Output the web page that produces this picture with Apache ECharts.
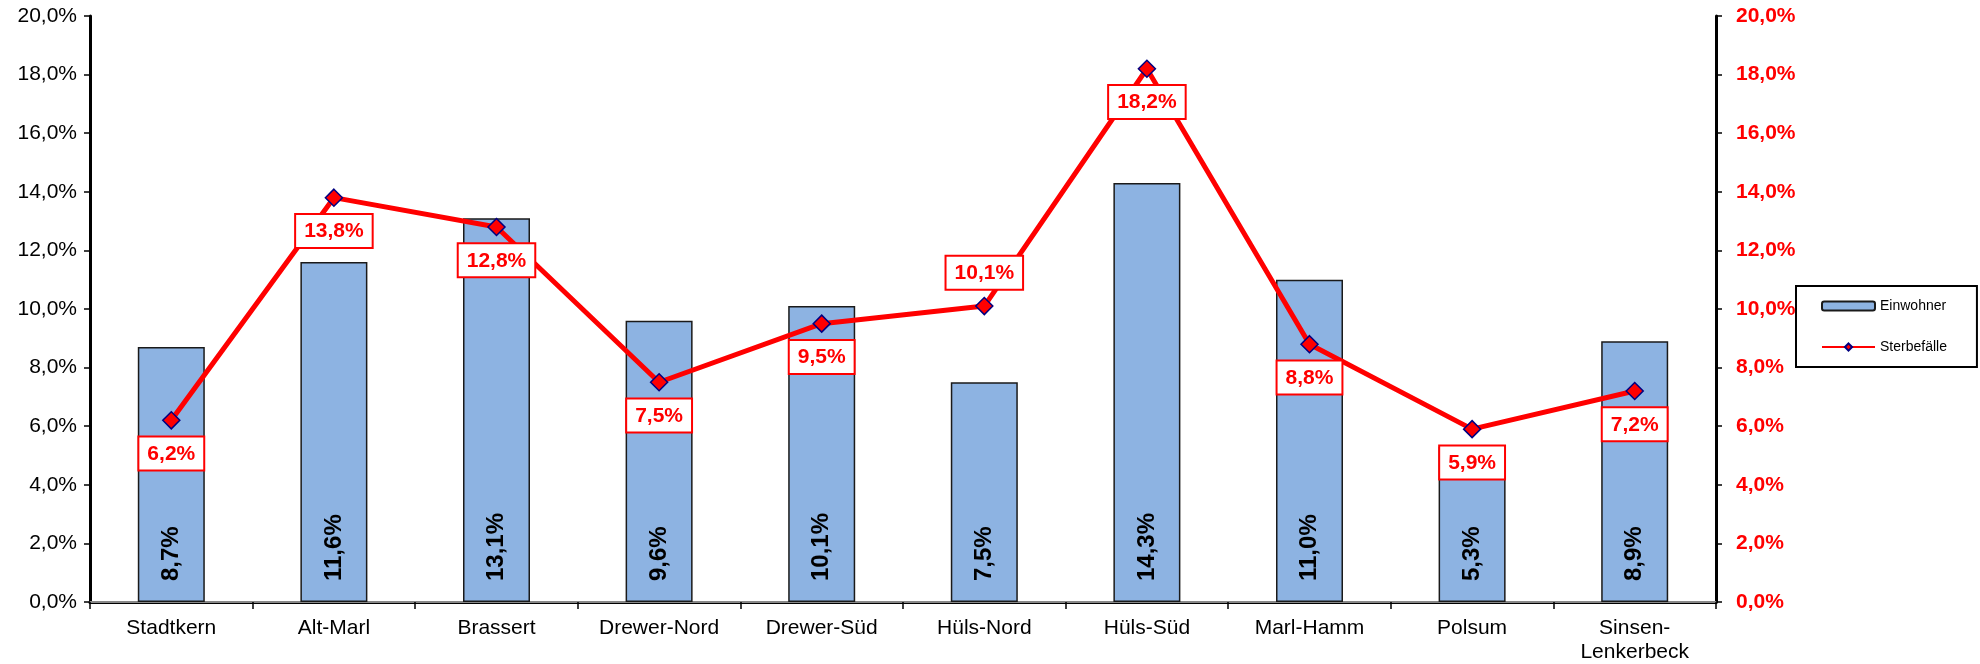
<!DOCTYPE html>
<html lang="de" style="height: 100%">
<head>
    <meta charset="utf-8">
</head>
<body style="height: 100%; margin: 0">
<div id="container" style="width: 1980px; height: 664px"></div>

<script type="text/javascript" src="https://fastly.jsdelivr.net/npm/echarts@6/dist/echarts.min.js"></script>

<script type="text/javascript">
    // Stadtteile
    var categories = ['Stadtkern', 'Alt-Marl', 'Brassert', 'Drewer-Nord', 'Drewer-Süd',
        'Hüls-Nord', 'Hüls-Süd', 'Marl-Hamm', 'Polsum', 'Sinsen-\nLenkerbeck'];
    // Anteil Einwohner (%)
    var einwohner = [8.7, 11.6, 13.1, 9.6, 10.1, 7.5, 14.3, 11.0, 5.3, 8.9];
    // Anteil Sterbefälle (%)
    var sterbefaelle = [6.2, 13.8, 12.8, 7.5, 9.5, 10.1, 18.2, 8.8, 5.9, 7.2];

    var FONT = 'Liberation Sans, Arial, sans-serif';

    function pct(v) {
        return v.toFixed(1).replace('.', ',') + '%';
    }

    var dom = document.getElementById('container');
    var myChart = echarts.init(dom, null, {renderer: 'canvas'});

    var lineData = sterbefaelle.map(function (v, i) {
        // label sits above the point only where the line would cover it
        var above = categories[i] === 'Hüls-Nord';
        return {
            value: v,
            label: {position: above ? 'top' : 'bottom'}
        };
    });

    var option = {
        animation: false,
        backgroundColor: '#fff',
        textStyle: {fontFamily: FONT},
        grid: {left: 90, right: 264, top: 16, bottom: 61},
        legend: {
            orient: 'vertical',
            left: 1796,
            top: 286,
            padding: [13, 30, 13, 25],
            itemGap: 27,
            itemWidth: 53,
            itemHeight: 9,
            borderColor: '#000',
            borderWidth: 2,
            textStyle: {fontSize: 14, color: '#000', fontFamily: FONT},
            data: ['Einwohner', 'Sterbefälle']
        },
        xAxis: [{
            type: 'category',
            data: categories,
            axisLine: {lineStyle: {color: '#000', width: 3}},
            axisTick: {show: true, length: 7, lineStyle: {color: '#000', width: 1.5}},
            axisLabel: {color: '#000', fontSize: 21, margin: 14, lineHeight: 24, interval: 0}
        }, {
            type: 'category',
            data: categories,
            position: 'top',
            axisLine: {lineStyle: {color: '#888', width: 2}},
            axisTick: {show: false},
            axisLabel: {show: false}
        }],
        yAxis: [{
            type: 'value',
            min: 0,
            max: 20,
            interval: 2,
            splitLine: {show: false},
            axisLine: {show: true, lineStyle: {color: '#000', width: 3}},
            axisTick: {show: true, length: 6, lineStyle: {color: '#000', width: 1.5}},
            axisLabel: {color: '#000', fontSize: 21, margin: 13, formatter: pct}
        }, {
            type: 'value',
            min: 0,
            max: 20,
            interval: 2,
            position: 'right',
            splitLine: {show: false},
            axisLine: {show: true, lineStyle: {color: '#000', width: 3}},
            axisTick: {show: true, length: 6, lineStyle: {color: '#000', width: 1.5}},
            axisLabel: {color: '#ff0000', fontSize: 21, fontWeight: 'bold', margin: 20, formatter: pct}
        }],
        series: [{
            name: 'Einwohner',
            type: 'bar',
            data: einwohner,
            barWidth: 67,
            itemStyle: {color: '#8db3e2', borderColor: '#1a1a1a', borderWidth: 1.5},
            label: {
                show: true,
                position: 'insideBottom',
                rotate: 90,
                align: 'left',
                verticalAlign: 'middle',
                distance: 21,
                color: '#000',
                fontSize: 24,
                fontWeight: 'bold',
                formatter: function (p) { return pct(p.value); }
            }
        }, {
            name: 'Sterbefälle',
            type: 'line',
            yAxisIndex: 1,
            data: lineData,
            symbol: 'diamond',
            symbolSize: 17,
            lineStyle: {color: '#ff0000', width: 5},
            itemStyle: {color: '#ff0000', borderColor: '#000080', borderWidth: 1.5},
            z: 5,
            label: {
                show: true,
                distance: 8,
                color: '#ff0000',
                fontSize: 21,
                fontWeight: 'bold',
                backgroundColor: '#fff',
                borderColor: '#ff0000',
                borderWidth: 2,
                padding: [6, 8, 5, 8],
                formatter: function (p) { return pct(p.value); }
            }
        }]
    };

    myChart.setOption(option);
    window.addEventListener('resize', myChart.resize);
</script>
</body>
</html>
